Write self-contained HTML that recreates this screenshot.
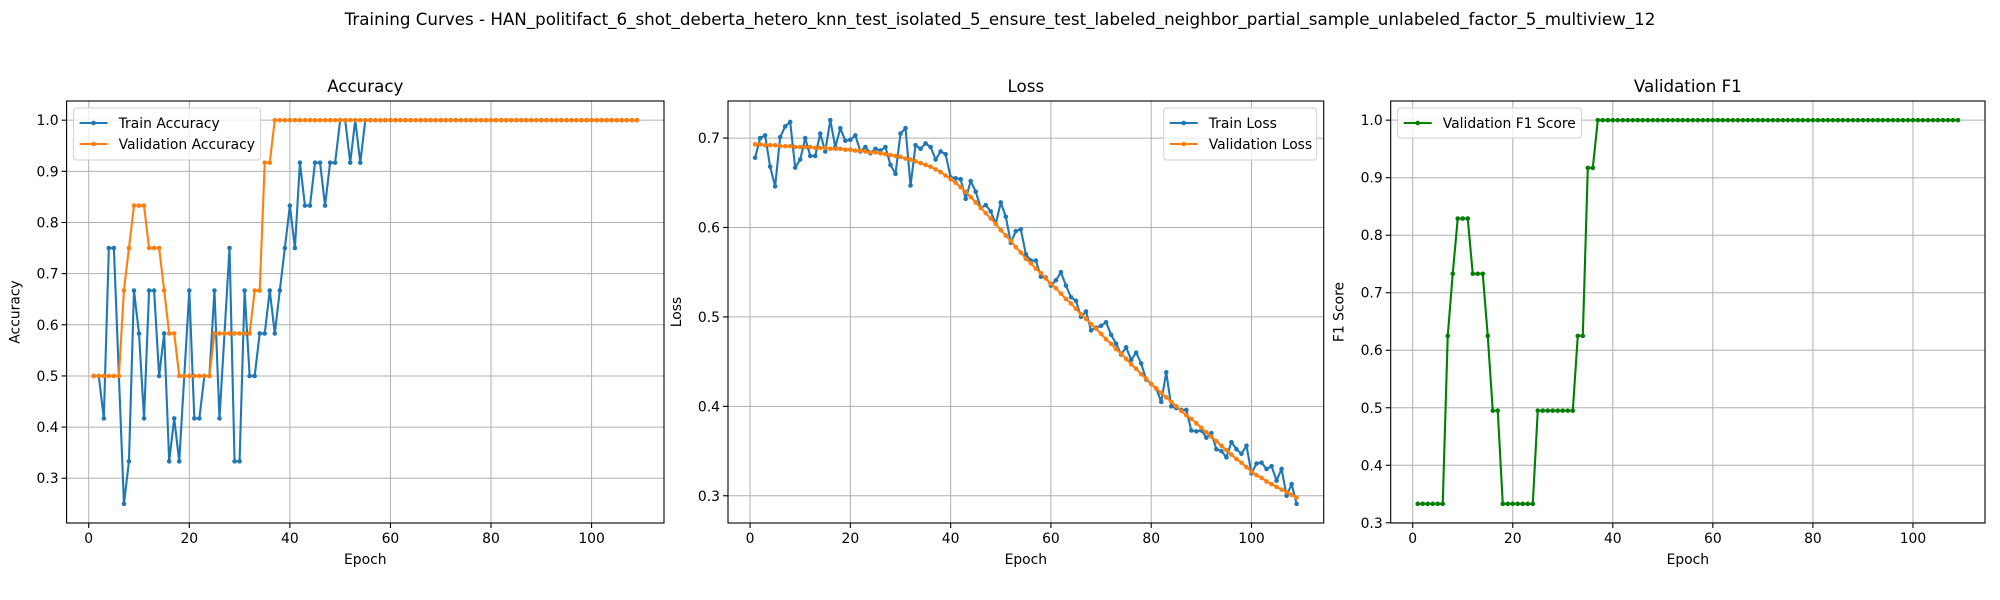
<!DOCTYPE html>
<html><head><meta charset="utf-8"><style>
html,body{margin:0;padding:0;background:#fff}
svg{display:block;font-family:"DejaVu Sans","Liberation Sans",sans-serif}
</style></head><body>
<svg id="fig" width="2000" height="600" viewBox="0 0 2000 600"></svg>
<script>
const epochs = Array.from({length:109}, (_, i) => i + 1);
const trainAcc = [0.5,0.5,0.417,0.75,0.75,0.5,0.25,0.333,0.667,0.583,0.417,0.667,0.667,0.5,0.583,0.333,0.417,0.333,0.5,0.667,0.417,0.417,0.5,0.5,0.667,0.417,0.583,0.75,0.333,0.333,0.667,0.5,0.5,0.583,0.583,0.667,0.583,0.667,0.75,0.833,0.75,0.917,0.833,0.833,0.917,0.917,0.833,0.917,0.917,1.0,1.0,0.917,1.0,0.917,1.0];
const valAcc = [0.5,0.5,0.5,0.5,0.5,0.5,0.667,0.75,0.833,0.833,0.833,0.75,0.75,0.75,0.667,0.583,0.583,0.5,0.5,0.5,0.5,0.5,0.5,0.5,0.583,0.583,0.583,0.583,0.583,0.583,0.583,0.583,0.667,0.667,0.917,0.917];
const trainLoss = [0.678,0.700,0.703,0.668,0.646,0.701,0.713,0.718,0.667,0.676,0.700,0.680,0.680,0.705,0.685,0.720,0.690,0.711,0.697,0.698,0.703,0.685,0.690,0.683,0.688,0.686,0.690,0.670,0.660,0.705,0.711,0.647,0.692,0.688,0.694,0.690,0.676,0.685,0.682,0.656,0.655,0.654,0.632,0.652,0.640,0.622,0.625,0.618,0.604,0.628,0.612,0.583,0.596,0.598,0.570,0.563,0.563,0.545,0.544,0.535,0.541,0.550,0.535,0.522,0.518,0.500,0.506,0.485,0.488,0.490,0.494,0.480,0.470,0.458,0.466,0.452,0.460,0.448,0.430,0.425,0.420,0.405,0.438,0.400,0.398,0.396,0.396,0.373,0.372,0.373,0.365,0.370,0.352,0.350,0.343,0.360,0.352,0.347,0.356,0.325,0.336,0.337,0.330,0.333,0.317,0.330,0.300,0.313,0.291];
const valLoss = [0.693,0.693,0.692,0.692,0.692,0.691,0.691,0.691,0.690,0.690,0.690,0.690,0.689,0.689,0.689,0.688,0.688,0.688,0.687,0.687,0.686,0.686,0.685,0.684,0.684,0.683,0.682,0.681,0.680,0.679,0.677,0.676,0.674,0.672,0.670,0.668,0.665,0.662,0.658,0.654,0.650,0.645,0.640,0.634,0.628,0.622,0.616,0.610,0.604,0.597,0.591,0.585,0.578,0.572,0.565,0.560,0.554,0.549,0.543,0.537,0.532,0.526,0.520,0.515,0.509,0.503,0.498,0.492,0.487,0.481,0.475,0.470,0.464,0.459,0.453,0.447,0.442,0.436,0.431,0.425,0.420,0.415,0.410,0.405,0.400,0.395,0.390,0.386,0.381,0.376,0.371,0.366,0.361,0.356,0.351,0.346,0.341,0.337,0.332,0.327,0.323,0.320,0.316,0.313,0.310,0.307,0.304,0.301,0.298];
const valF1 = [0.333,0.333,0.333,0.333,0.333,0.333,0.625,0.733,0.829,0.829,0.829,0.733,0.733,0.733,0.625,0.495,0.495,0.333,0.333,0.333,0.333,0.333,0.333,0.333,0.495,0.495,0.495,0.495,0.495,0.495,0.495,0.495,0.625,0.625,0.917,0.917];
const xTicks = [0,20,40,60,80,100];
const accTicks = [0.3,0.4,0.5,0.6,0.7,0.8,0.9,1.0];
const lossTicks = [0.3,0.4,0.5,0.6,0.7];
const f1Ticks = [0.3,0.4,0.5,0.6,0.7,0.8,0.9,1.0];

function pad(arr, n, v){ const a = arr.slice(); while(a.length<n) a.push(v); return a; }
const trainAccFull = pad(trainAcc, 109, 1.0);
const valAccFull = pad(valAcc, 109, 1.0);
const valF1Full = pad(valF1, 109, 1.0);

const NS = "http://www.w3.org/2000/svg";
const svg = document.getElementById('fig');
function el(tag, attrs, parent){ const e=document.createElementNS(NS,tag); for(const k in attrs) e.setAttribute(k,attrs[k]); (parent||svg).appendChild(e); return e; }
function txt(s, attrs, parent){ const t=el('text',attrs,parent); t.textContent=s; return t; }

const t0 = txt("Training Curves - HAN_politifact_6_shot_deberta_hetero_knn_test_isolated_5_ensure_test_labeled_neighbor_partial_sample_unlabeled_factor_5_multiview_12",{x:1000,y:25,'text-anchor':'middle','font-size':16.7,fill:'#000'});



function panel(cfg){
  const g = el('g',{});
  
  
  const L=cfg.left, R=cfg.right, T=101, B=523;
  let all=[]; cfg.series.forEach(s=>all=all.concat(s.data));
  const mn=Math.min(...all), mx=Math.max(...all), m=(mx-mn)*0.05;
  const y0=mn-m, y1=mx+m;
  const x0=1-5.4, x1=109+5.4;
  const X=v=>L+(v-x0)/(x1-x0)*(R-L);
  const Y=v=>B-(v-y0)/(y1-y0)*(B-T);
  xTicks.forEach(t=>{
    const gl=el('line',{x1:X(t),x2:X(t),y1:T,y2:B,stroke:'#b0b0b0','stroke-width':1},g);
     
  });
  cfg.yTicks.forEach(t=>{
    const gl=el('line',{x1:L,x2:R,y1:Y(t),y2:Y(t),stroke:'#b0b0b0','stroke-width':1},g);
     
  });
  cfg.series.forEach(s=>{
    const pts=s.data.map((v,i)=>X(epochs[i]).toFixed(2)+','+Y(v).toFixed(2)).join(' ');
    const sg=el('g',{},g);
    
    
    el('polyline',{points:pts,fill:'none',stroke:s.color,'stroke-width':2.1,'stroke-linejoin':'round'},sg);
    s.data.forEach((v,i)=>{
      const c=el('circle',{cx:X(epochs[i]),cy:Y(v),r:2.3,fill:s.color},sg);
      
      
    });
  });
  const fr=el('rect',{x:L,y:T,width:R-L,height:B-T,fill:'none',stroke:'#000','stroke-width':1.1},g);
   
  xTicks.forEach(t=>{
    el('line',{x1:X(t),x2:X(t),y1:B,y2:B+5,stroke:'#000','stroke-width':1.1},g);
    const tl=txt(String(t),{x:X(t),y:B+20,'text-anchor':'middle','font-size':13.9},g);
     
  });
  cfg.yTicks.forEach(t=>{
    el('line',{x1:L-5,x2:L,y1:Y(t),y2:Y(t),stroke:'#000','stroke-width':1.1},g);
    const tl=txt(t.toFixed(1),{x:L-8,y:Y(t)+5,'text-anchor':'end','font-size':13.9},g);
     
  });
  const tt=txt(cfg.title,{x:(L+R)/2,y:92,'text-anchor':'middle','font-size':16.7},g);
   
  const xl=txt('Epoch',{x:(L+R)/2,y:564,'text-anchor':'middle','font-size':13.9},g);
   
  const yl=txt(cfg.ylabel,{x:0,y:0,'text-anchor':'middle','font-size':13.9,transform:`translate(${L-47},${(T+B)/2}) rotate(-90)`},g);
   
  const lw=cfg.legendW, lh=16+cfg.series.length*22;
  const lx = cfg.legendRight ? R-7-lw : L+7, ly=T+7;
  const lg=el('g',{},g);
  
  
  el('rect',{x:lx,y:ly,width:lw,height:lh-8,rx:3,fill:'#fff','fill-opacity':0.8,stroke:'#d0d0d0'},lg);
  cfg.series.forEach((s,i)=>{
    const yy=ly+15+i*21;
    const e=el('g',{},lg);
    
    
    el('line',{x1:lx+6,x2:lx+34,y1:yy,y2:yy,stroke:s.color,'stroke-width':2.1},e);
    el('circle',{cx:lx+20,cy:yy,r:2.3,fill:s.color},e);
    txt(s.label,{x:lx+45,y:yy+5,'font-size':13.9},e);
  });
}

panel({name:'accuracy-panel',left:66.6,right:664,title:'Accuracy',ylabel:'Accuracy',yTicks:accTicks,legendW:187,legendRight:false,
  series:[{name:'train-accuracy-line',label:'Train Accuracy',color:'#1f77b4',data:trainAccFull},
          {name:'validation-accuracy-line',label:'Validation Accuracy',color:'#ff7f0e',data:valAccFull}]});
panel({name:'loss-panel',left:728,right:1323.7,title:'Loss',ylabel:'Loss',yTicks:lossTicks,legendW:153,legendRight:true,
  series:[{name:'train-loss-line',label:'Train Loss',color:'#1f77b4',data:trainLoss},
          {name:'validation-loss-line',label:'Validation Loss',color:'#ff7f0e',data:valLoss}]});
panel({name:'f1-panel',left:1390.7,right:1985,title:'Validation F1',ylabel:'F1 Score',yTicks:f1Ticks,legendW:184,legendRight:false,
  series:[{name:'validation-f1-line',label:'Validation F1 Score',color:'#008000',data:valF1Full}]});
</script>
</body></html>
